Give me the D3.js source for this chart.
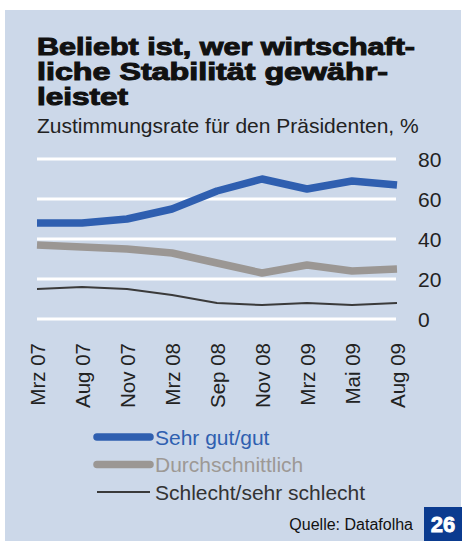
<!DOCTYPE html>
<html><head><meta charset="utf-8">
<script src="https://cdn.jsdelivr.net/npm/d3@7"></script>
<style>body{margin:0;background:#fff;} svg{display:block;}</style>
</head><body>
<svg id="c" width="462" height="541"></svg>
<script>
const categories = ["Mrz 07","Aug 07","Nov 07","Mrz 08","Sep 08","Nov 08","Mrz 09","Mai 09","Aug 09"];
const sehrGut = [48,48,50,55,64,70,65,69,67];
const durchschnittlich = [37,36,35,33,28,23,27,24,25];
const schlecht = [15,16,15,12,8,7,8,7,8];
const yTicks = [0,20,40,60,80];
const seriesNames = ["Sehr gut/gut","Durchschnittlich","Schlecht/sehr schlecht"];

const svg = d3.select("#c");
const font = "'Liberation Sans', Arial, sans-serif";
svg.append("rect").attr("x",5).attr("y",10).attr("width",456).attr("height",531).attr("fill","#ccd8e9");

const title = [
  {t:"Beliebt ist, wer wirtschaft-", w:378},
  {t:"liche Stabilität gewähr-", w:351},
  {t:"leistet", w:91}
];
svg.append("g").selectAll("text").data(title).join("text")
  .attr("x",37).attr("y",(d,i)=>55+i*25)
  .attr("font-family",font).attr("font-weight","bold").attr("font-size",23.5)
  .attr("fill","#111").attr("stroke","#111").attr("stroke-width",1)
  .attr("textLength",d=>d.w).attr("lengthAdjust","spacingAndGlyphs")
  .text(d=>d.t);
svg.append("text").attr("x",37).attr("y",133).attr("font-family",font).attr("font-size",21)
  .attr("fill","#222").text("Zustimmungsrate für den Präsidenten, %");

const x = d3.scalePoint().domain(categories).range([37,397]);
const y = d3.scaleLinear().domain([0,80]).range([319,159]);

svg.append("g").selectAll("line").data(yTicks).join("line")
  .attr("x1",37).attr("x2",396).attr("y1",d=>y(d)).attr("y2",d=>y(d))
  .attr("stroke","#fff").attr("stroke-width",3);

const yAxis = svg.append("g").attr("transform","translate(410,0)")
  .call(d3.axisRight(y).tickValues(yTicks).tickSize(0).tickPadding(8));
yAxis.select(".domain").remove();
yAxis.selectAll("text").attr("font-family",font).attr("font-size",21).attr("fill","#222").attr("dy","0.35em");

const xAxis = svg.append("g").attr("transform","translate(0,343)")
  .call(d3.axisBottom(x).tickSize(0).tickPadding(0));
xAxis.select(".domain").remove();
xAxis.selectAll("text").attr("font-family",font).attr("font-size",20.5).attr("fill","#222")
  .attr("transform","rotate(-90)").attr("text-anchor","end").attr("x",0).attr("y",0).attr("dy","0.35em").attr("dx",0);

const series = [
  {name:seriesNames[0], values:sehrGut, color:"#2f5fb0", w:7.5, text:"#2f5fb0"},
  {name:seriesNames[1], values:durchschnittlich, color:"#9b9794", w:7.5, text:"#9d9995"},
  {name:seriesNames[2], values:schlecht, color:"#3a3a3a", w:2, text:"#333"}
];
const line = d3.line().x((d,i)=>x(categories[i])).y(d=>y(d));
svg.append("g").selectAll("path").data(series.slice().reverse()).join("path")
  .attr("d",d=>line(d.values)).attr("fill","none").attr("stroke",d=>d.color)
  .attr("stroke-width",d=>d.w).attr("stroke-linejoin","round");

const leg = svg.append("g").selectAll("g").data(series).join("g")
  .attr("transform",(d,i)=>`translate(0,${437+i*27.5})`);
leg.append("line").attr("x1",97).attr("x2",150).attr("y1",0).attr("y2",0)
  .attr("stroke",d=>d.color).attr("stroke-width",d=>d.w).attr("stroke-linecap",d=>d.w>3?"round":"butt");
leg.append("text").attr("x",155).attr("y",0).attr("dy","0.36em").attr("font-family",font).attr("font-size",21)
  .attr("fill",d=>d.text).text(d=>d.name);

svg.append("text").attr("x",413).attr("y",530).attr("text-anchor","end").attr("font-family",font)
  .attr("font-size",16).attr("fill","#111").text("Quelle: Datafolha");
svg.append("rect").attr("x",424).attr("y",507).attr("width",38).attr("height",34).attr("fill","#0b3b8f");
svg.append("text").attr("x",443).attr("y",532).attr("text-anchor","middle").attr("font-family",font)
  .attr("font-weight","bold").attr("font-size",22).attr("fill","#fff").attr("stroke","#fff").attr("stroke-width",0.8).text("26");
</script>
</body></html>
